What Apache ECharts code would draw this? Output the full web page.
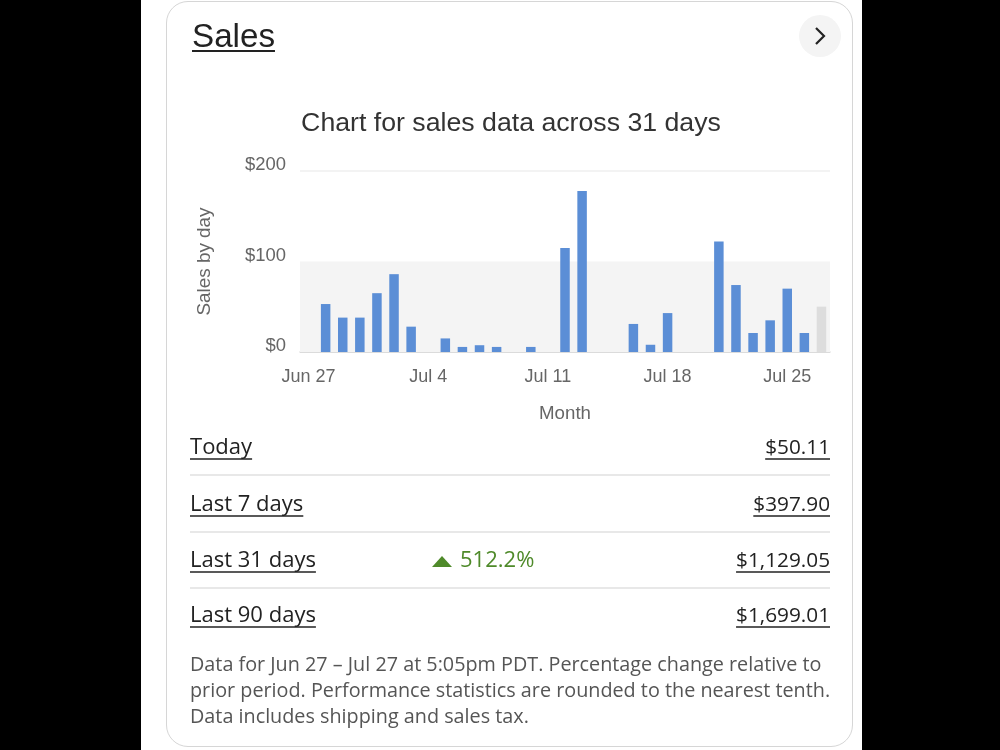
<!DOCTYPE html>
<html>
<head>
<meta charset="utf-8">
<script src="https://cdn.jsdelivr.net/npm/echarts@6/dist/echarts.min.js"></script>
<style>
  html, body { margin: 0; padding: 0; background: #000; }
  #stage { position: relative; width: 1000px; height: 750px; background: #000; overflow: hidden; }
  #panel { position: absolute; left: 141px; top: 0; width: 721px; height: 750px; background: #fff; }
  #card { position: absolute; left: 166px; top: 1px; width: 685px; height: 744px; border: 1.5px solid #d6d6d6; border-radius: 22px; background: #fff; }
  #chart { position: absolute; left: 0; top: 0; width: 1000px; height: 750px; }
</style>
</head>
<body>
<div id="stage">
  <div id="panel"></div>
  <div id="card"></div>
  <div id="chart"></div>
</div>
<script>
// ---- data ----
const days = ['Jun 27','Jun 28','Jun 29','Jun 30','Jul 1','Jul 2','Jul 3','Jul 4','Jul 5','Jul 6','Jul 7','Jul 8','Jul 9','Jul 10','Jul 11','Jul 12','Jul 13','Jul 14','Jul 15','Jul 16','Jul 17','Jul 18','Jul 19','Jul 20','Jul 21','Jul 22','Jul 23','Jul 24','Jul 25','Jul 26','Jul 27'];
const sales = [0, 53, 38, 38, 65, 86, 28, 0, 15, 5.6, 7.5, 5.6, 0, 5.6, 0, 115, 178, 0, 0, 31, 8, 43, 0, 0, 122, 74, 21, 35, 70, 21, 50.11];
const yTicks = [0, 100, 200];
const statLabels = ['Today', 'Last 7 days', 'Last 31 days', 'Last 90 days'];
const statValues = ['$50.11', '$397.90', '$1,129.05', '$1,699.01'];
const statChange = ['', '', '512.2%', ''];
const footnote = [
  'Data for Jun 27 \u2013 Jul 27 at 5:05pm PDT. Percentage change relative to',
  'prior period. Performance statistics are rounded to the nearest tenth.',
  'Data includes shipping and sales tax.'
];
const titleText = 'Chart for sales data across 31 days';

// ---- helpers ----
const mctx = document.createElement('canvas').getContext('2d');
function textWidth(str, font) { mctx.font = font; return mctx.measureText(str).width; }
function fitSize(str, family, target) { return +(100 * target / textWidth(str, '100px ' + family)).toFixed(2); }

const BLUE = '#5b8ed6';
const GRAY_BAR = '#dddddd';
const CHART_FAMILY = '"Liberation Sans"';
const STAT_FAMILY = '"Open Sans"';

const titleSize = fitSize(titleText, CHART_FAMILY, 420);
const xLabSize = fitSize('Jun 27', CHART_FAMILY, 54);
const yLabSize = fitSize('$200', CHART_FAMILY, 41);
const monthSize = fitSize('Month', CHART_FAMILY, 52);
const yNameSize = fitSize('Sales by day', CHART_FAMILY, 108);
const statSize = fitSize('Last 31 days', STAT_FAMILY, 126);
const valSize = fitSize('$1,129.05', STAT_FAMILY, 94);
const footSize = fitSize(footnote[0], STAT_FAMILY, 632);
const statFont = statSize + 'px ' + STAT_FAMILY;
const valFont = valSize + 'px ' + STAT_FAMILY;
const footFont = footSize + 'px ' + STAT_FAMILY;

const graphics = [];
// header
const headFont = fitSize('Sales', CHART_FAMILY, 83) + 'px ' + CHART_FAMILY;
graphics.push({ type: 'text', x: 192, y: 38, style: { text: 'Sales', font: headFont, fill: '#222222', textVerticalAlign: 'middle' }, z: 5 });
graphics.push({ type: 'line', shape: { x1: 192, y1: 51, x2: 192 + textWidth('Sales', headFont), y2: 51 }, style: { stroke: '#222222', lineWidth: 2 }, z: 5 });
// chevron button
graphics.push({ type: 'circle', shape: { cx: 820, cy: 36, r: 21 }, style: { fill: '#f4f4f4' }, z: 5 });
graphics.push({ type: 'polyline', shape: { points: [[816, 28], [824, 36], [816, 44]] }, style: { stroke: '#222222', lineWidth: 2.2, fill: null }, z: 6 });
// chart title
graphics.push({ type: 'text', x: 511, y: 124, style: { text: titleText, font: titleSize + 'px ' + CHART_FAMILY, fill: '#333333', textAlign: 'center', textVerticalAlign: 'middle' }, z: 5 });

// stats rows
const rowY = [448, 505, 561, 616];
const sepY = [475, 532, 588];
sepY.forEach(function (y) {
  graphics.push({ type: 'line', shape: { x1: 190, y1: y, x2: 830, y2: y }, style: { stroke: '#e0e0e0', lineWidth: 1.5 }, z: 5 });
});
statLabels.forEach(function (lab, i) {
  const y = rowY[i];
  graphics.push({ type: 'text', x: 190, y: y, style: { text: lab, font: statFont, fill: '#222222', textVerticalAlign: 'middle' }, z: 5 });
  graphics.push({ type: 'line', shape: { x1: 190, y1: y + 11, x2: 190 + textWidth(lab, statFont), y2: y + 11 }, style: { stroke: '#222222', lineWidth: 1.6 }, z: 5 });
  const v = statValues[i];
  const w = textWidth(v, valFont);
  graphics.push({ type: 'text', x: 830, y: y, style: { text: v, font: valFont, fill: '#222222', textAlign: 'right', textVerticalAlign: 'middle' }, z: 5 });
  graphics.push({ type: 'line', shape: { x1: 830 - w, y1: y + 11, x2: 830, y2: y + 11 }, style: { stroke: '#222222', lineWidth: 1.6 }, z: 5 });
  if (statChange[i]) {
    graphics.push({ type: 'polygon', shape: { points: [[432, y + 6], [452, y + 6], [442, y - 5]] }, style: { fill: '#4f8a2a' }, z: 5 });
    graphics.push({ type: 'text', x: 460, y: y, style: { text: statChange[i], font: statFont, fill: '#4f8a2a', textVerticalAlign: 'middle' }, z: 5 });
  }
});
// footnote
const footY = [665, 691, 717];
footnote.forEach(function (line, i) {
  graphics.push({ type: 'text', x: 190, y: footY[i], style: { text: line, font: footFont, fill: '#555555', textVerticalAlign: 'middle' }, z: 5 });
});

const chart = echarts.init(document.getElementById('chart'), null, { renderer: 'canvas' });
chart.setOption({
  backgroundColor: 'transparent',
  animation: false,
  graphic: graphics,
  grid: { left: 300, right: 170, top: 171, bottom: 398, containLabel: false },
  xAxis: {
    type: 'category',
    data: days,
    boundaryGap: true,
    name: 'Month',
    nameLocation: 'middle',
    nameGap: 52,
    nameTextStyle: { color: '#666666', fontSize: monthSize, fontFamily: 'Liberation Sans' },
    axisLine: { show: true, lineStyle: { color: '#d9d9d9', width: 1.5 } },
    axisTick: { show: false },
    axisLabel: { interval: 6, color: '#666666', fontSize: xLabSize, fontFamily: 'Liberation Sans', margin: 16 },
    splitLine: { show: false }
  },
  yAxis: {
    type: 'value',
    min: yTicks[0],
    max: yTicks[yTicks.length - 1],
    interval: yTicks[1] - yTicks[0],
    name: 'Sales by day',
    nameLocation: 'middle',
    nameGap: 86,
    nameRotate: 90,
    nameTextStyle: { color: '#666666', fontSize: yNameSize, fontFamily: 'Liberation Sans' },
    axisLine: { show: false },
    axisTick: { show: false },
    axisLabel: { color: '#666666', fontSize: yLabSize, fontFamily: 'Liberation Sans', margin: 14, verticalAlign: 'bottom', lineHeight: 12, formatter: function (v) { return '$' + v; } },
    splitLine: { show: true, lineStyle: { color: ['#d9d9d9', 'rgba(0,0,0,0)', '#efefef'], width: 1.5 } }
  },
  series: [{
    type: 'bar',
    barWidth: 9.5,
    z: 3,
    data: sales.map(function (v, i) {
      return i === sales.length - 1 ? { value: v, itemStyle: { color: GRAY_BAR } } : v;
    }),
    itemStyle: { color: BLUE },
    markArea: {
      silent: true,
      itemStyle: { color: '#f4f4f4' },
      data: [[{ yAxis: 0 }, { yAxis: 100 }]]
    }
  }]
});
</script>
</body>
</html>
